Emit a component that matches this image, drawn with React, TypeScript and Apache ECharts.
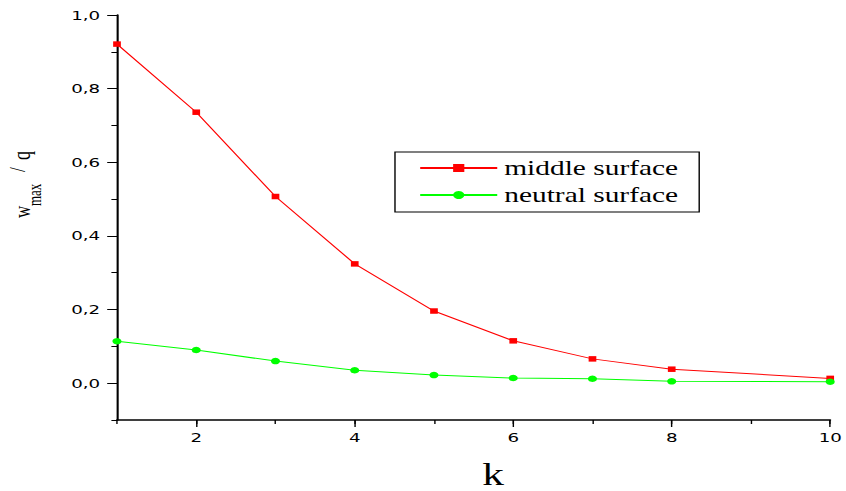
import React, { useEffect, useRef } from "react";
import * as echarts from "echarts";

// Data
const kValues = [1, 2, 3, 4, 5, 6, 7, 8, 10];
const middleSurface = [0.921, 0.736, 0.507, 0.324, 0.196, 0.115, 0.066, 0.038, 0.013];
const neutralSurface = [0.114, 0.09, 0.06, 0.035, 0.022, 0.014, 0.012, 0.005, 0.004];
const seriesNames = ["middle surface", "neutral surface"];
const xAxisTitle = "k";
const yAxisTitleParts = ["w", "max", "/", "q"];

// The reference is horizontally stretched; draw narrower and stretch.
const FULL_W = 846;
const H = 491;
const W = 604;
const SX = FULL_W / W;

const fmtComma = (v: number) => v.toFixed(1).replace(".", ",");

export default function App() {
  const ref = useRef<HTMLDivElement>(null);

  useEffect(() => {
    if (!ref.current) return;
    const chart = echarts.init(ref.current, null, { renderer: "svg", width: W, height: H });
    const axisColor = "#000";
    const tickFont = { fontFamily: "DejaVu Sans", fontSize: 13, color: "#000" };
    const serif = "Liberation Serif";

    chart.setOption({
      animation: false,
      backgroundColor: "#fff",
      grid: { left: 117 / SX, right: W - 835 / SX, top: 15, bottom: H - 420, containLabel: false },
      xAxis: [
        {
          type: "value",
          min: 1,
          max: 10,
          interval: 1,
          position: "bottom",
          axisLine: { show: true, onZero: false, lineStyle: { color: axisColor, width: 1.5 } },
          axisTick: { show: true, length: 4, lineStyle: { color: axisColor, width: 1 } },
          axisLabel: { show: false },
          splitLine: { show: false },
        },
        {
          type: "value",
          min: 1,
          max: 10,
          position: "bottom",
          offset: 0,
          axisLine: { show: false, onZero: false },
          axisTick: { show: true, length: 7, lineStyle: { color: axisColor, width: 1 } },
          axisLabel: { show: true, showMinLabel: false, margin: 11, ...tickFont },
          splitLine: { show: false },
        },
      ],
      yAxis: [
        {
          type: "value",
          min: -0.1,
          max: 1.0,
          interval: 0.1,
          position: "left",
          axisLine: { show: true, onZero: false, lineStyle: { color: axisColor, width: 1.5 } },
          axisTick: { show: true, length: 4, lineStyle: { color: axisColor, width: 1 } },
          axisLabel: { show: false },
          splitLine: { show: false },
        },
        {
          type: "value",
          min: -0.1,
          max: 1.0,
          position: "left",
          offset: 0,
          axisLine: { show: false, onZero: false },
          axisTick: { show: true, length: 7, lineStyle: { color: axisColor, width: 1 } },
          axisLabel: {
            show: true,
            showMinLabel: false,
            margin: 12,
            formatter: (v: number) => fmtComma(v),
            ...tickFont,
          },
          splitLine: { show: false },
        },
      ],
      legend: {
        orient: "vertical",
        left: 282,
        top: 152,
        padding: [5, 15, 6, 17],
        itemWidth: 55,
        itemHeight: 10,
        itemGap: 5,
        borderColor: "#000",
        borderWidth: 1,
        borderRadius: 0,
        textStyle: { fontFamily: serif, fontSize: 21, lineHeight: 22, color: "#000" },
        data: seriesNames,
      },
      series: [
        {
          name: seriesNames[0],
          type: "line",
          xAxisIndex: 0,
          yAxisIndex: 0,
          data: kValues.map((k, i) => [k, middleSurface[i]]),
          symbol: "rect",
          symbolSize: 5.5,
          lineStyle: { color: "#ff0000", width: 1 },
          itemStyle: { color: "#ff0000" },
          clip: false,
        },
        {
          name: seriesNames[1],
          type: "line",
          xAxisIndex: 0,
          yAxisIndex: 0,
          data: kValues.map((k, i) => [k, neutralSurface[i]]),
          symbol: "circle",
          symbolSize: 6.5,
          lineStyle: { color: "#00ff00", width: 1 },
          itemStyle: { color: "#00ff00" },
          clip: false,
        },
      ],
      graphic: [
        {
          type: "text",
          x: 493 / SX,
          y: 474,
          style: {
            text: xAxisTitle,
            font: `31px "${serif}"`,
            fill: "#000",
            align: "center",
            verticalAlign: "middle",
          },
        },
        {
          type: "group",
          x: 15.4,
          y: 217,
          rotation: Math.PI / 2,
          children: [
            {
              type: "text",
              x: -1,
              y: 0,
              style: { text: yAxisTitleParts[0], font: `17px "${serif}"`, fill: "#000", align: "left", verticalAlign: "middle" },
            },
            {
              type: "text",
              x: 11,
              y: 9,
              style: { text: yAxisTitleParts[1], font: `13px "${serif}"`, fill: "#000", align: "left", verticalAlign: "middle" },
            },
            {
              type: "text",
              x: 45,
              y: -3,
              style: { text: yAxisTitleParts[2], font: `17px "${serif}"`, fill: "#000", align: "left", verticalAlign: "middle" },
            },
            {
              type: "text",
              x: 57,
              y: 0,
              style: { text: yAxisTitleParts[3], font: `18px "${serif}"`, fill: "#000", align: "left", verticalAlign: "middle" },
            },
          ],
        },
      ],
    });

    return () => chart.dispose();
  }, []);

  return (
    <div
      ref={ref}
      style={{
        position: "absolute",
        left: 0,
        top: 0,
        width: W,
        height: H,
        transform: `scaleX(${SX})`,
        transformOrigin: "0 0",
        background: "#fff",
      }}
    />
  );
}
